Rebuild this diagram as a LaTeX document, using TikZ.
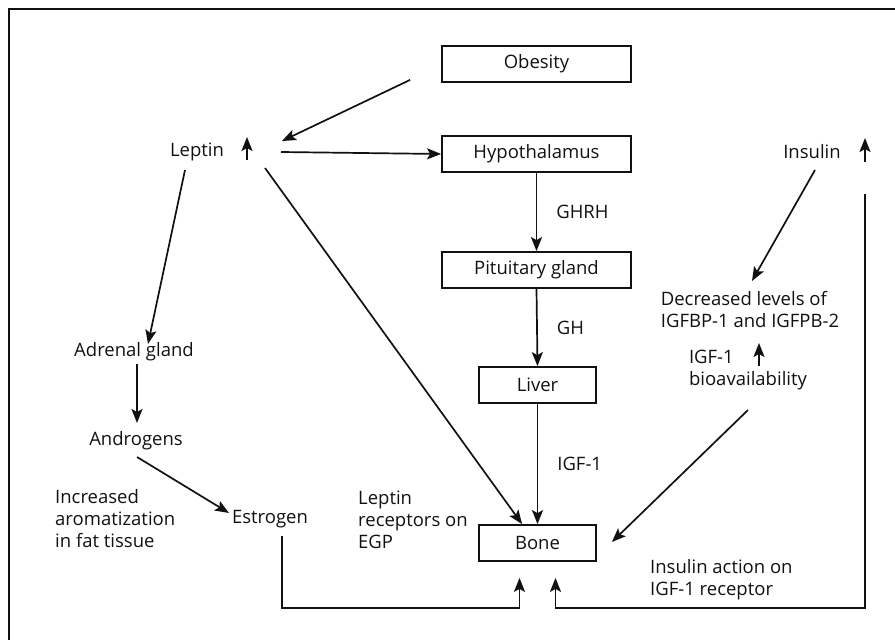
\documentclass[tikz,border=0pt]{standalone}
\usepackage{fontspec}
\setmainfont{Open Sans}
\usepackage{tikz}
\usetikzlibrary{arrows.meta,positioning,calc}
\definecolor{hink}{HTML}{111111}
\tikzset{
  hbox/.style={
    draw=hink, line width=1.8pt, text=hink, inner sep=0pt,
    minimum width=#1, minimum height=36pt, font=\fontsize{18.5}{22}\selectfont},
  htext/.style={text=hink, inner sep=0pt, font=\fontsize{18.5}{22}\selectfont},
  hnote/.style={htext, align=left, anchor=west},
  hlabel/.style={htext, right=19pt},
  hflow/.style={-{Stealth[length=14pt,width=11pt,inset=3pt]}, draw=hink,
    line width=1.7pt},
}
\begin{document}
\begin{tikzpicture}[x=1pt,y=-1pt]
\useasboundingbox (0,0) rectangle (895,640);
\draw[line width=1.8pt, draw=hink] (9,640) -- (9,9) -- (895,9);

% central chain
\node[hbox=189pt] (obesity) at (536.5,64)  {Obesity};
\node[hbox=189pt] (hypo)    at (536.5,154) {Hypothalamus};
\node[hbox=189pt] (pit)     at (536.5,270) {Pituitary gland};
\node[hbox=117pt] (liver)   at (537.5,385) {Liver};
\node[hbox=117pt] (bone)    at (537.5,543) {Bone};

% free texts
\node[htext] (leptin)    at (197,152) {Leptin};
\node[htext] (insulin)   at (812,152) {Insulin};
\node[htext] (adrenal)   at (134,352) {Adrenal gland};
\node[htext] (androgens) at (136,441) {Androgens};
\node[htext] (estrogen)  at (270,519) {Estrogen};
\node[htext,align=left] (decr)  at (750,310) {Decreased levels of\\IGFBP-1 and IGFPB-2};
\node[htext,align=left] (bioav) at (748,370) {IGF-1\\bioavailability};
\node[hnote] (aroma)    at (55,519)  {Increased\\aromatization\\in fat tissue};
\node[hnote] (leprec)   at (358,520) {Leptin\\receptors on\\EGP};
\node[hnote] (insact)   at (650,580) {Insulin action on\\IGF-1 receptor};

% rising levels
\draw[hflow] ($(leptin)+(50,8)$) -- ($(leptin)+(50,-15)$);
\draw[hflow] ($(insulin)+(53,10)$) -- ($(insulin)+(53,-14)$);
\draw[hflow] ($(bioav)+(11,-4)$) -- ($(bioav)+(11,-27)$);

\draw[hflow] (hypo.south) -- node[hlabel]{GHRH} (pit.north);
\draw[hflow] (pit.south) -- node[hlabel]{GH} (liver.north);
\draw[hflow] (liver.south) -- node[hlabel]{IGF-1} (bone.north);

\draw[hflow] ($(obesity.south west)+(-31,-3)$) -- ($(leptin)+(85,-11)$);
\draw[hflow] ($(leptin)+(84,0)$) -- (hypo.west);
\draw[hflow] ($(leptin)+(68,16)$) -- ($(bone.north west)+(44,0)$);
\draw[hflow] ($(leptin)+(-12,18)$) -- ($(adrenal)+(14,-8)$);
\draw[hflow] ($(adrenal)+(3,12)$) -- ($(androgens)+(1,-18)$);
\draw[hflow] ($(androgens)+(1,16)$) -- ($(estrogen)+(-41,-6)$);
\draw[hflow] ($(estrogen)+(12,17)$) |- ($(bone.south)+(-18,46)$) -- ($(bone.south)+(-18,16)$);
\draw[hflow] ($(insulin)+(53,42)$) |- ($(bone.south)+(18,46)$) -- ($(bone.south)+(18,16)$);
\draw[hflow] ($(insulin)+(3,18)$) -- ($(decr)+(2,-29)$);
\draw[hflow] ($(bioav)+(0,40)$) -- ($(bone.east)+(15,-1)$);

\end{tikzpicture}
\end{document}
